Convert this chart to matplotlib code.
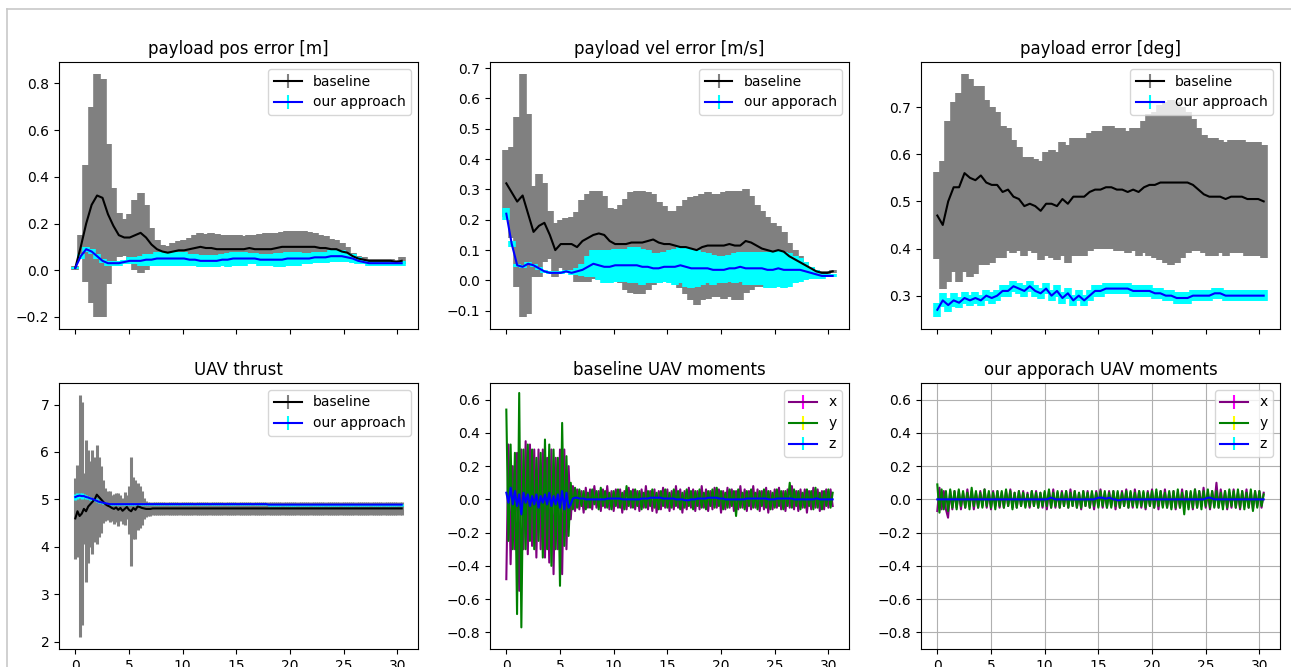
import numpy as np
import matplotlib.pyplot as plt
from matplotlib.lines import Line2D

# time axes (s)
t_err = np.linspace(0, 30.4, 61)     # ~0.5 s samples for the error panels
t_fine = np.linspace(0, 30.4, 153)   # 0.2 s samples for thrust / moments

# ---- payload position error [m]
pos_base_mean = [0.01, 0.10, 0.20, 0.28, 0.32, 0.31, 0.24, 0.19, 0.15, 0.14,
                 0.14, 0.15, 0.16, 0.14, 0.11, 0.09, 0.08, 0.075, 0.08, 0.085,
                 0.085, 0.09, 0.095, 0.10, 0.095, 0.095, 0.09, 0.09, 0.09, 0.09,
                 0.09, 0.09, 0.095, 0.09, 0.09, 0.09, 0.09, 0.095, 0.10, 0.10,
                 0.10, 0.10, 0.10, 0.10, 0.10, 0.095, 0.095, 0.09, 0.09, 0.08,
                 0.075, 0.06, 0.05, 0.045, 0.04, 0.04, 0.04, 0.04, 0.04, 0.035,
                 0.04]
pos_base_std = [0.01, 0.05, 0.25, 0.42, 0.52, 0.51, 0.30, 0.16, 0.095, 0.08,
                0.10, 0.15, 0.17, 0.14, 0.07, 0.04, 0.03, 0.03, 0.035, 0.04,
                0.045, 0.05, 0.055, 0.06, 0.06, 0.065, 0.065, 0.06, 0.06, 0.06,
                0.06, 0.055, 0.055, 0.06, 0.065, 0.07, 0.07, 0.065, 0.065, 0.07,
                0.07, 0.07, 0.07, 0.065, 0.06, 0.055, 0.05, 0.045, 0.04, 0.035,
                0.025, 0.015, 0.01, 0.01, 0.01, 0.01, 0.01, 0.01, 0.01, 0.01,
                0.015]
pos_ours_mean = [0.01, 0.06, 0.09, 0.08, 0.06, 0.04, 0.03, 0.03, 0.03, 0.035,
                 0.04, 0.04, 0.04, 0.045, 0.045, 0.05, 0.05, 0.05, 0.05, 0.05,
                 0.05, 0.045, 0.045, 0.04, 0.04, 0.04, 0.04, 0.045, 0.045, 0.05,
                 0.05, 0.05, 0.05, 0.05, 0.045, 0.045, 0.045, 0.045, 0.045, 0.05,
                 0.05, 0.05, 0.05, 0.05, 0.055, 0.055, 0.055, 0.06, 0.06, 0.06,
                 0.055, 0.05, 0.04, 0.035, 0.03, 0.03, 0.03, 0.03, 0.03, 0.03,
                 0.03]
pos_ours_std = [0.005, 0.01, 0.01, 0.01, 0.01, 0.01, 0.01, 0.01, 0.01, 0.01,
                0.015, 0.015, 0.02, 0.025, 0.025, 0.03, 0.03, 0.03, 0.03, 0.03,
                0.03, 0.025, 0.025, 0.025, 0.025, 0.025, 0.025, 0.025, 0.03, 0.03,
                0.03, 0.03, 0.025, 0.025, 0.025, 0.025, 0.025, 0.03, 0.03, 0.03,
                0.03, 0.03, 0.025, 0.025, 0.025, 0.025, 0.025, 0.025, 0.025, 0.025,
                0.02, 0.02, 0.015, 0.01, 0.01, 0.01, 0.01, 0.01, 0.01, 0.01,
                0.01]

# ---- payload velocity error [m/s]
vel_base_mean = [0.32, 0.29, 0.26, 0.28, 0.22, 0.16, 0.18, 0.19, 0.15, 0.10,
                 0.12, 0.12, 0.12, 0.11, 0.13, 0.14, 0.15, 0.155, 0.15, 0.13,
                 0.12, 0.12, 0.12, 0.125, 0.125, 0.125, 0.13, 0.135, 0.125, 0.12,
                 0.12, 0.115, 0.11, 0.11, 0.105, 0.10, 0.11, 0.115, 0.115, 0.115,
                 0.115, 0.12, 0.115, 0.115, 0.13, 0.125, 0.115, 0.105, 0.10, 0.095,
                 0.10, 0.095, 0.08, 0.07, 0.06, 0.05, 0.04, 0.03, 0.025, 0.025,
                 0.03]
vel_base_std = [0.11, 0.15, 0.28, 0.40, 0.33, 0.15, 0.17, 0.13, 0.08, 0.09,
                0.08, 0.085, 0.09, 0.115, 0.135, 0.145, 0.145, 0.14, 0.13, 0.11,
                0.115, 0.13, 0.15, 0.165, 0.17, 0.17, 0.16, 0.15, 0.135, 0.125,
                0.11, 0.115, 0.135, 0.155, 0.17, 0.18, 0.175, 0.175, 0.17, 0.17,
                0.175, 0.175, 0.18, 0.18, 0.17, 0.155, 0.135, 0.125, 0.11, 0.095,
                0.08, 0.065, 0.045, 0.03, 0.02, 0.01, 0.005, 0.005, 0.005, 0.005,
                0.005]
vel_ours_mean = [0.22, 0.12, 0.05, 0.045, 0.055, 0.05, 0.04, 0.03, 0.025, 0.025,
                 0.025, 0.03, 0.025, 0.03, 0.035, 0.045, 0.055, 0.05, 0.045, 0.045,
                 0.05, 0.05, 0.05, 0.05, 0.05, 0.045, 0.045, 0.04, 0.04, 0.045,
                 0.045, 0.045, 0.05, 0.045, 0.04, 0.04, 0.04, 0.04, 0.035, 0.035,
                 0.035, 0.04, 0.04, 0.045, 0.04, 0.04, 0.04, 0.04, 0.035, 0.035,
                 0.04, 0.035, 0.035, 0.035, 0.035, 0.03, 0.025, 0.02, 0.015, 0.015,
                 0.015]
vel_ours_std = [0.02, 0.01, 0.005, 0.005, 0.005, 0.005, 0.005, 0.005, 0.005, 0.005,
                0.005, 0.005, 0.008, 0.012, 0.02, 0.035, 0.045, 0.05, 0.055, 0.055,
                0.055, 0.055, 0.055, 0.06, 0.06, 0.06, 0.055, 0.05, 0.05, 0.05,
                0.055, 0.06, 0.06, 0.065, 0.065, 0.06, 0.055, 0.05, 0.05, 0.045,
                0.045, 0.045, 0.05, 0.05, 0.055, 0.055, 0.055, 0.055, 0.06, 0.06,
                0.06, 0.06, 0.055, 0.045, 0.04, 0.03, 0.02, 0.015, 0.01, 0.005,
                0.005]

# ---- payload attitude error [deg]
ang_base_mean = [0.47, 0.45, 0.50, 0.53, 0.53, 0.56, 0.55, 0.545, 0.555, 0.54,
                 0.535, 0.535, 0.52, 0.525, 0.51, 0.505, 0.49, 0.495, 0.49, 0.48,
                 0.495, 0.495, 0.49, 0.505, 0.495, 0.51, 0.51, 0.51, 0.52, 0.525,
                 0.525, 0.53, 0.53, 0.525, 0.525, 0.52, 0.525, 0.52, 0.53, 0.535,
                 0.535, 0.54, 0.54, 0.54, 0.54, 0.54, 0.54, 0.535, 0.525, 0.515,
                 0.51, 0.51, 0.51, 0.505, 0.51, 0.51, 0.51, 0.505, 0.505, 0.505,
                 0.50]
ang_base_std = [0.093, 0.135, 0.17, 0.18, 0.20, 0.21, 0.21, 0.20, 0.19, 0.175,
                0.165, 0.155, 0.14, 0.13, 0.12, 0.11, 0.105, 0.10, 0.10, 0.105,
                0.11, 0.115, 0.115, 0.12, 0.125, 0.125, 0.125, 0.125, 0.125, 0.125,
                0.125, 0.13, 0.13, 0.13, 0.13, 0.13, 0.13, 0.135, 0.14, 0.15,
                0.155, 0.165, 0.17, 0.175, 0.17, 0.16, 0.15, 0.14, 0.13, 0.125,
                0.125, 0.125, 0.12, 0.12, 0.12, 0.12, 0.12, 0.12, 0.12, 0.12,
                0.12]
ang_ours_mean = [0.27, 0.29, 0.28, 0.29, 0.285, 0.295, 0.29, 0.295, 0.29, 0.30,
                 0.295, 0.30, 0.31, 0.31, 0.32, 0.315, 0.31, 0.32, 0.31, 0.305,
                 0.315, 0.30, 0.31, 0.295, 0.305, 0.29, 0.30, 0.29, 0.30, 0.31,
                 0.31, 0.315, 0.315, 0.315, 0.315, 0.315, 0.31, 0.31, 0.31, 0.31,
                 0.305, 0.305, 0.30, 0.30, 0.295, 0.295, 0.295, 0.30, 0.30, 0.30,
                 0.30, 0.305, 0.305, 0.30, 0.30, 0.30, 0.30, 0.30, 0.30, 0.30,
                 0.30]
ang_ours_std = [0.015, 0.015, 0.015, 0.015, 0.012, 0.012, 0.012, 0.012, 0.012, 0.012,
                0.012, 0.012, 0.012, 0.012, 0.012, 0.012, 0.012, 0.012, 0.012, 0.012,
                0.012, 0.012, 0.012, 0.012, 0.012, 0.012, 0.012, 0.012, 0.012, 0.012,
                0.012, 0.012, 0.012, 0.012, 0.012, 0.012, 0.012, 0.012, 0.012, 0.012,
                0.012, 0.012, 0.012, 0.012, 0.012, 0.012, 0.012, 0.012, 0.012, 0.012,
                0.012, 0.012, 0.012, 0.012, 0.012, 0.012, 0.012, 0.012, 0.012, 0.012,
                0.012]

# ---- UAV thrust
thr_base_mean = [4.60, 4.75, 4.65, 4.70, 4.80, 4.75, 4.85, 4.90, 4.95, 5.00,
                 5.10, 5.05, 5.00, 4.95, 4.90, 4.87, 4.85, 4.82, 4.80, 4.83,
                 4.78, 4.82, 4.76, 4.80, 4.84, 4.78, 4.75, 4.82, 4.78, 4.85,
                 4.84, 4.82, 4.81, 4.80, 4.80, 4.80, 4.81, 4.81, 4.81, 4.81,
                 4.81, 4.81, 4.81, 4.81, 4.81, 4.81, 4.81, 4.81, 4.81, 4.81,
                 4.81, 4.81, 4.81, 4.81, 4.81, 4.81, 4.81, 4.81, 4.81, 4.81,
                 4.81, 4.81, 4.81, 4.81, 4.81, 4.81, 4.81, 4.81, 4.81, 4.81,
                 4.81, 4.81, 4.81, 4.81, 4.81, 4.81, 4.81, 4.81, 4.81, 4.81,
                 4.81, 4.81, 4.81, 4.81, 4.81, 4.81, 4.81, 4.81, 4.81, 4.81,
                 4.81, 4.81, 4.81, 4.81, 4.81, 4.81, 4.81, 4.81, 4.81, 4.81,
                 4.81, 4.81, 4.81, 4.81, 4.81, 4.81, 4.81, 4.81, 4.81, 4.81,
                 4.81, 4.81, 4.81, 4.81, 4.81, 4.81, 4.81, 4.81, 4.81, 4.81,
                 4.81, 4.81, 4.81, 4.81, 4.81, 4.81, 4.81, 4.81, 4.81, 4.81,
                 4.81, 4.81, 4.81, 4.81, 4.81, 4.81, 4.81, 4.81, 4.81, 4.81,
                 4.81, 4.81, 4.81, 4.81, 4.81, 4.81, 4.81, 4.81, 4.81, 4.81,
                 4.81, 4.81, 4.81]
thr_base_std = [0.85, 0.97, 2.55, 2.35, 0.75, 1.50, 1.20, 0.90, 1.10, 0.90,
                1.05, 0.85, 0.70, 0.45, 0.35, 0.30, 0.32, 0.28, 0.32, 0.30,
                0.35, 0.28, 0.28, 0.35, 0.25, 0.50, 1.15, 0.65, 0.62, 0.50,
                0.45, 0.35, 0.22, 0.17, 0.15, 0.14, 0.14, 0.14, 0.14, 0.14,
                0.14, 0.14, 0.13, 0.14, 0.14, 0.14, 0.14, 0.14, 0.14, 0.14,
                0.14, 0.14, 0.14, 0.14, 0.13, 0.14, 0.14, 0.14, 0.14, 0.14,
                0.14, 0.14, 0.14, 0.14, 0.14, 0.14, 0.14, 0.14, 0.14, 0.14,
                0.14, 0.14, 0.14, 0.14, 0.14, 0.14, 0.13, 0.14, 0.14, 0.14,
                0.14, 0.14, 0.14, 0.14, 0.14, 0.14, 0.14, 0.14, 0.14, 0.14,
                0.14, 0.14, 0.14, 0.14, 0.14, 0.14, 0.14, 0.14, 0.14, 0.14,
                0.14, 0.14, 0.14, 0.14, 0.14, 0.14, 0.14, 0.14, 0.14, 0.14,
                0.14, 0.14, 0.14, 0.14, 0.14, 0.14, 0.14, 0.14, 0.14, 0.14,
                0.14, 0.14, 0.14, 0.14, 0.14, 0.14, 0.14, 0.14, 0.14, 0.14,
                0.14, 0.14, 0.14, 0.14, 0.14, 0.14, 0.14, 0.14, 0.14, 0.14,
                0.14, 0.14, 0.14, 0.14, 0.14, 0.14, 0.14, 0.14, 0.14, 0.14,
                0.14, 0.14, 0.14]
thr_ours_mean = [5.05, 5.07, 5.08, 5.07, 5.07, 5.05, 5.04, 5.02, 5.01, 4.99,
                 4.97, 4.95, 4.94, 4.93, 4.92, 4.91, 4.90, 4.90, 4.90, 4.90,
                 4.90, 4.90, 4.90, 4.90, 4.90, 4.90, 4.90, 4.90, 4.90, 4.90,
                 4.90, 4.90, 4.90, 4.90, 4.90, 4.90, 4.90, 4.90, 4.90, 4.90,
                 4.90, 4.90, 4.90, 4.90, 4.90, 4.90, 4.90, 4.90, 4.90, 4.90,
                 4.90, 4.90, 4.90, 4.90, 4.90, 4.90, 4.90, 4.90, 4.90, 4.90,
                 4.90, 4.90, 4.90, 4.90, 4.90, 4.90, 4.90, 4.90, 4.90, 4.90,
                 4.90, 4.90, 4.90, 4.90, 4.90, 4.90, 4.90, 4.90, 4.90, 4.90,
                 4.90, 4.90, 4.90, 4.90, 4.90, 4.90, 4.90, 4.90, 4.90, 4.90,
                 4.89, 4.89, 4.89, 4.89, 4.89, 4.89, 4.89, 4.89, 4.89, 4.89,
                 4.89, 4.89, 4.89, 4.89, 4.89, 4.89, 4.89, 4.89, 4.89, 4.89,
                 4.89, 4.89, 4.89, 4.89, 4.89, 4.89, 4.89, 4.89, 4.89, 4.89,
                 4.89, 4.89, 4.89, 4.89, 4.89, 4.89, 4.89, 4.89, 4.89, 4.89,
                 4.89, 4.89, 4.89, 4.89, 4.89, 4.89, 4.89, 4.89, 4.89, 4.89,
                 4.89, 4.89, 4.89, 4.89, 4.89, 4.89, 4.89, 4.89, 4.89, 4.89,
                 4.89, 4.89, 4.89]
thr_ours_std = [0.06, 0.06, 0.06, 0.06, 0.05, 0.05, 0.04, 0.04, 0.03, 0.03,
                0.03, 0.02, 0.02, 0.02, 0.02, 0.02, 0.02, 0.02, 0.02, 0.02,
                0.02, 0.02, 0.02, 0.02, 0.02, 0.02, 0.02, 0.02, 0.02, 0.02,
                0.02, 0.02, 0.02, 0.02, 0.02, 0.02, 0.02, 0.02, 0.02, 0.02,
                0.02, 0.02, 0.02, 0.02, 0.02, 0.02, 0.02, 0.02, 0.02, 0.02,
                0.02, 0.02, 0.02, 0.02, 0.02, 0.02, 0.02, 0.02, 0.02, 0.02,
                0.02, 0.02, 0.02, 0.02, 0.02, 0.02, 0.02, 0.02, 0.02, 0.02,
                0.02, 0.02, 0.02, 0.02, 0.02, 0.02, 0.02, 0.02, 0.02, 0.02,
                0.02, 0.02, 0.02, 0.02, 0.02, 0.02, 0.02, 0.02, 0.02, 0.02,
                0.02, 0.02, 0.02, 0.02, 0.02, 0.02, 0.02, 0.02, 0.02, 0.02,
                0.02, 0.02, 0.02, 0.02, 0.02, 0.02, 0.02, 0.02, 0.02, 0.02,
                0.02, 0.02, 0.02, 0.02, 0.02, 0.02, 0.02, 0.02, 0.02, 0.02,
                0.02, 0.02, 0.02, 0.02, 0.02, 0.02, 0.02, 0.02, 0.02, 0.02,
                0.02, 0.02, 0.02, 0.02, 0.02, 0.02, 0.02, 0.02, 0.02, 0.02,
                0.02, 0.02, 0.02, 0.02, 0.02, 0.02, 0.02, 0.02, 0.02, 0.02,
                0.02, 0.02, 0.02]

# ---- baseline UAV moments
mb_x = [-0.48, 0.33, -0.39, 0.20, -0.30, 0.28, -0.55, 0.30, -0.30, 0.35,
        -0.33, 0.33, -0.28, 0.30, -0.35, 0.30, -0.30, 0.30, -0.35, 0.25,
        -0.38, 0.30, -0.45, 0.25, -0.30, 0.30, -0.45, 0.30, -0.30, 0.20,
        -0.12, 0.08, -0.07, 0.06, -0.06, 0.05, -0.08, 0.07, -0.05, 0.06,
        -0.06, 0.08, -0.05, 0.05, -0.07, 0.06, -0.05, 0.08, -0.06, 0.05,
        -0.07, 0.06, -0.05, 0.06, -0.08, 0.05, -0.06, 0.07, -0.05, 0.06,
        -0.06, 0.05, -0.07, 0.06, -0.05, 0.08, -0.06, 0.05, -0.07, 0.06,
        -0.08, 0.05, -0.06, 0.07, -0.05, 0.06, -0.07, 0.05, -0.06, 0.08,
        -0.05, 0.06, -0.08, 0.05, -0.06, 0.07, -0.05, 0.06, -0.07, 0.05,
        -0.06, 0.08, -0.05, 0.06, -0.07, 0.05, -0.06, 0.07, -0.05, 0.06,
        -0.08, 0.05, -0.06, 0.07, -0.05, 0.06, -0.07, 0.05, -0.06, 0.08,
        -0.05, 0.06, -0.07, 0.05, -0.06, 0.08, -0.05, 0.06, -0.07, 0.05,
        -0.06, 0.07, -0.08, 0.05, -0.06, 0.06, -0.05, 0.07, -0.06, 0.05,
        -0.07, 0.06, -0.05, 0.08, -0.06, 0.05, -0.07, 0.06, -0.05, 0.06,
        -0.08, 0.05, -0.06, 0.07, -0.05, 0.06, -0.07, 0.05, -0.06, 0.06,
        -0.05, 0.06, -0.04]
mb_y = [0.54, -0.25, 0.33, -0.30, 0.28, -0.69, 0.64, -0.77, 0.30, -0.30,
        0.33, -0.25, 0.30, -0.30, 0.25, -0.25, 0.28, -0.35, 0.36, -0.30,
        0.33, -0.40, 0.30, -0.30, 0.25, -0.52, 0.46, -0.28, 0.26, -0.22,
        0.10, -0.06, 0.07, -0.05, 0.06, -0.04, 0.05, -0.06, 0.04, -0.05,
        0.06, -0.03, 0.05, -0.06, 0.07, -0.04, 0.05, -0.05, 0.04, -0.06,
        0.05, -0.04, 0.06, -0.05, 0.04, -0.06, 0.08, -0.04, 0.05, -0.05,
        0.06, -0.04, 0.05, -0.06, 0.04, -0.05, 0.05, -0.04, 0.06, -0.05,
        0.04, -0.06, 0.05, -0.04, 0.06, -0.05, 0.04, -0.05, 0.06, -0.04,
        0.05, -0.06, 0.04, -0.05, 0.06, -0.04, 0.05, -0.06, 0.05, -0.04,
        0.06, -0.05, 0.04, -0.06, 0.05, -0.04, 0.06, -0.05, 0.07, -0.04,
        0.05, -0.06, 0.04, -0.05, 0.06, -0.04, 0.05, -0.10, 0.06, -0.05,
        0.04, -0.06, 0.05, -0.04, 0.06, -0.05, 0.04, -0.06, 0.05, -0.04,
        0.06, -0.05, 0.05, -0.06, 0.04, -0.05, 0.06, -0.04, 0.05, -0.06,
        0.05, -0.04, 0.10, -0.05, 0.06, -0.04, 0.05, -0.06, 0.04, -0.05,
        0.06, -0.04, 0.05, -0.06, 0.07, -0.05, 0.04, -0.06, 0.05, -0.04,
        0.06, -0.05, 0.04]
mb_z = [0.04, -0.02, 0.07, -0.03, 0.05, -0.04, 0.03, -0.09, 0.04, -0.02,
        0.03, -0.04, 0.02, -0.03, 0.03, -0.05, 0.02, -0.02, 0.03, -0.03,
        0.04, -0.04, 0.02, -0.03, 0.03, -0.05, 0.05, -0.06, 0.04, -0.05,
        -0.03, 0.005, 0.01, 0.01, 0.005, 0.005, 0.005, 0.0, 0.0, 0.0,
        0.0, 0.0, 0.0, 0.0, 0.0, 0.0, 0.0, 0.005, 0.005, 0.005,
        0.005, 0.005, 0.005, 0.005, 0.0, 0.0, 0.0, 0.0, 0.0, 0.0,
        0.0, 0.0, 0.0, 0.005, 0.005, 0.005, 0.005, 0.01, 0.01, 0.01,
        0.01, 0.01, 0.01, 0.005, 0.005, 0.005, 0.005, 0.005, 0.005, 0.0,
        0.0, 0.0, 0.0, -0.005, -0.005, -0.005, 0.0, 0.0, 0.0, 0.005,
        0.005, 0.005, 0.005, 0.005, 0.01, 0.01, 0.01, 0.01, 0.01, 0.005,
        0.005, 0.005, 0.0, 0.0, 0.0, 0.0, 0.0, 0.0, 0.0, 0.0,
        0.0, 0.0, 0.005, 0.005, 0.005, 0.005, 0.005, 0.005, 0.005, 0.005,
        0.005, 0.005, 0.0, 0.0, 0.0, 0.0, 0.005, 0.005, 0.005, 0.005,
        0.005, 0.005, 0.005, 0.005, 0.0, 0.0, 0.0, 0.0, 0.0, 0.0,
        0.0, 0.0, 0.0, 0.0, 0.005, 0.005, 0.0, 0.0, 0.0, 0.0,
        0.0, 0.0, 0.0]

# ---- our approach UAV moments
mo_x = [-0.07, 0.07, -0.06, 0.05, -0.06, -0.11, 0.05, -0.06, 0.05, -0.05,
        0.05, -0.06, 0.04, -0.05, 0.06, -0.04, 0.05, -0.06, 0.04, -0.05,
        0.05, -0.04, 0.06, -0.05, 0.04, -0.06, 0.05, -0.04, 0.05, -0.05,
        0.04, -0.05, 0.05, -0.04, 0.06, -0.05, 0.04, -0.05, 0.05, -0.04,
        0.05, -0.04, 0.04, -0.05, 0.05, -0.04, 0.05, -0.05, 0.04, -0.05,
        0.04, -0.06, 0.05, -0.05, 0.06, -0.05, 0.04, -0.05, 0.05, -0.04,
        0.05, -0.05, 0.06, -0.04, 0.05, -0.05, 0.04, -0.06, 0.05, -0.04,
        0.05, -0.05, 0.04, -0.06, 0.05, -0.04, 0.06, -0.05, 0.04, -0.05,
        0.05, -0.04, 0.05, -0.06, 0.04, -0.05, 0.05, -0.04, 0.06, -0.05,
        0.04, -0.05, 0.06, -0.04, 0.05, -0.05, 0.04, -0.06, 0.05, -0.04,
        0.06, -0.05, 0.04, -0.06, 0.05, -0.04, 0.06, -0.05, 0.04, -0.05,
        0.05, -0.06, 0.04, -0.05, 0.06, -0.04, 0.05, -0.05, 0.04, -0.06,
        0.06, -0.05, 0.05, -0.04, 0.07, -0.05, 0.04, -0.06, 0.05, -0.04,
        0.10, -0.05, 0.06, -0.04, 0.05, -0.06, 0.04, -0.05, 0.06, -0.05,
        0.04, -0.06, 0.05, -0.04, 0.06, -0.05, 0.04, -0.06, 0.05, -0.04,
        0.05, -0.05, 0.04]
mo_y = [0.09, -0.08, 0.06, -0.06, 0.05, -0.07, 0.06, -0.05, 0.05, -0.06,
        0.06, -0.04, 0.05, -0.05, 0.04, -0.06, 0.07, -0.04, 0.05, -0.05,
        0.04, -0.05, 0.06, -0.04, 0.05, -0.05, 0.04, -0.06, 0.05, -0.04,
        0.05, -0.05, 0.06, -0.04, 0.05, -0.06, 0.04, -0.05, 0.05, -0.04,
        0.04, -0.05, 0.03, -0.04, 0.05, -0.04, 0.04, -0.05, 0.04, -0.04,
        0.05, -0.04, 0.06, -0.05, 0.04, -0.04, 0.05, -0.05, 0.04, -0.04,
        0.05, -0.05, 0.04, -0.04, 0.05, -0.05, 0.04, -0.05, 0.05, -0.04,
        0.04, -0.05, 0.05, -0.04, 0.04, -0.05, 0.05, -0.04, 0.05, -0.05,
        0.04, -0.05, 0.05, -0.04, 0.05, -0.05, 0.04, -0.04, 0.05, -0.05,
        0.05, -0.04, 0.04, -0.05, 0.05, -0.04, 0.05, -0.05, 0.04, -0.04,
        0.05, -0.05, 0.06, -0.04, 0.05, -0.05, 0.04, -0.05, 0.05, -0.06,
        0.05, -0.05, 0.06, -0.05, 0.04, -0.09, 0.05, -0.06, 0.05, -0.05,
        0.06, -0.05, 0.05, -0.06, 0.05, -0.04, 0.06, -0.05, 0.05, -0.05,
        0.05, -0.05, 0.04, -0.06, 0.05, -0.05, 0.06, -0.04, 0.05, -0.05,
        0.06, -0.05, 0.05, -0.06, 0.04, -0.05, 0.06, -0.07, 0.05, -0.05,
        0.05, -0.04, 0.03]
mo_z = [0.0, 0.0, 0.0, 0.0, 0.0, 0.0, 0.0, 0.0, 0.0, 0.0,
        0.0, 0.0, 0.0, 0.0, 0.0, 0.0, 0.0, 0.0, 0.0, 0.0,
        0.0, 0.0, 0.0, 0.0, 0.0, 0.0, 0.0, 0.0, 0.0, 0.0,
        0.0, 0.0, 0.0, 0.0, 0.0, 0.0, 0.0, 0.0, 0.0, 0.0,
        0.0, 0.0, 0.0, 0.0, 0.0, 0.0, 0.0, 0.0, 0.0, 0.0,
        0.0, 0.0, 0.005, 0.01, 0.005, 0.0, 0.0, 0.0, 0.0, 0.0,
        0.0, 0.0, 0.0, 0.0, 0.0, 0.0, 0.0, 0.0, 0.0, 0.0,
        0.0, 0.0, 0.0, 0.0, 0.005, 0.01, 0.01, 0.01, 0.005, 0.005,
        0.01, 0.005, 0.0, 0.0, -0.005, -0.005, 0.0, 0.0, 0.0, 0.0,
        0.0, 0.0, 0.0, 0.0, 0.0, 0.0, 0.0, 0.0, 0.0, 0.0,
        0.0, 0.0, 0.0, 0.0, 0.0, 0.0, 0.0, 0.0, 0.0, 0.0,
        0.0, 0.0, 0.0, 0.0, 0.0, 0.0, 0.0, 0.0, 0.0, 0.0,
        0.0, 0.0, 0.0, 0.0, 0.0, 0.005, 0.01, 0.01, 0.005, 0.0,
        0.0, 0.0, 0.0, 0.0, 0.0, 0.0, 0.0, 0.0, 0.0, 0.0,
        0.0, 0.0, 0.0, 0.0, 0.0, 0.0, 0.0, 0.0, 0.0, 0.0,
        0.0, 0.0, 0.0]


def band(ax, t, m, s, lc, ec, lab, z):
    eb = ax.errorbar(t, m, yerr=s, color=lc, ecolor=ec, label=lab)
    eb[0].set_zorder(z + 1)
    for c in eb[2]:
        c.set_zorder(z)
    return eb


fig, axes = plt.subplots(2, 3, sharex=True, figsize=(12.91, 6.67), dpi=100)
W, H = 1291.0, 667.0
lefts = [59, 490, 921]
for r, (top, bot) in enumerate([(62, 329), (383, 649)]):
    for c in range(3):
        axes[r, c].set_position([lefts[c] / W, 1 - bot / H, 359 / W, (bot - top) / H])

panels = [
    (axes[0, 0], t_err, pos_base_mean, pos_base_std, pos_ours_mean, pos_ours_std,
     'payload pos error [m]', 'our approach', 5.5),
    (axes[0, 1], t_err, vel_base_mean, vel_base_std, vel_ours_mean, vel_ours_std,
     'payload vel error [m/s]', 'our apporach', 5.5),
    (axes[0, 2], t_err, ang_base_mean, ang_base_std, ang_ours_mean, ang_ours_std,
     'payload error [deg]', 'our approach', 5.5),
    (axes[1, 0], t_fine, thr_base_mean, thr_base_std, thr_ours_mean, thr_ours_std,
     'UAV thrust', 'our approach', 2.2),
]
for ax, t, bm, bs, om, os_, title, lab, ew in panels:
    e1 = band(ax, t, bm, bs, 'k', 'gray', 'baseline', 2)
    e2 = band(ax, t, om, os_, 'blue', 'cyan', lab, 2.5)
    ax.set_title(title)
    ax.legend(loc='upper right')
    # widen the bars only after the legend so the legend keeps thin ones
    for e in (e1, e2):
        for c in e[2]:
            c.set_linewidth(ew)

for ax, mx, my, mz, title in [(axes[1, 1], mb_x, mb_y, mb_z, 'baseline UAV moments'),
                              (axes[1, 2], mo_x, mo_y, mo_z, 'our apporach UAV moments')]:
    ax.errorbar(t_fine, mx, yerr=0.0, color='purple', ecolor='magenta', label='x')
    ax.errorbar(t_fine, my, yerr=0.0, color='green', ecolor='yellow', label='y')
    ax.errorbar(t_fine, mz, yerr=0.0, color='blue', ecolor='cyan', label='z')
    ax.set_ylim(-0.9, 0.7)
    ax.set_yticks([-0.8, -0.6, -0.4, -0.2, 0.0, 0.2, 0.4, 0.6])
    ax.set_title(title)
    ax.legend(loc='upper right')
axes[1, 2].grid(True)

# page frame around the figure
fig.add_artist(Line2D([7 / W, 7 / W], [0, 1 - 9 / H], transform=fig.transFigure,
                      color='#c8c8c8', lw=1.2))
fig.add_artist(Line2D([7 / W, 1], [1 - 9 / H, 1 - 9 / H], transform=fig.transFigure,
                      color='#c8c8c8', lw=1.2))

fig.savefig('out.png', dpi=100)
